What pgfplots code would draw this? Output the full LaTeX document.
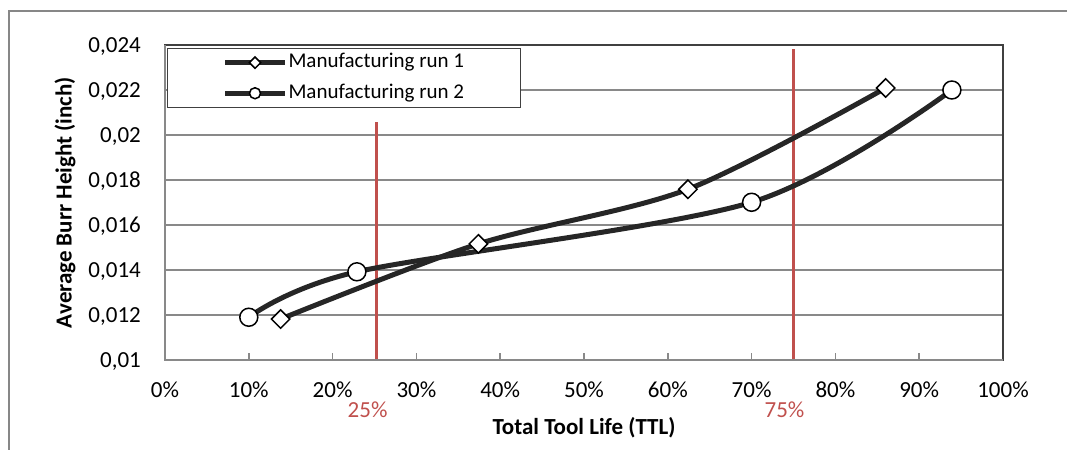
\documentclass[border=0pt]{standalone}
\usepackage{pgfplots}
\pgfplotsset{compat=1.18}
\usepackage{fontspec}
\setmainfont{Carlito}
\definecolor{serie}{HTML}{262626}
\definecolor{gridc}{HTML}{898989}
\definecolor{framec}{HTML}{404040}
\definecolor{axred}{HTML}{C0504D}
\definecolor{outerc}{HTML}{878787}
\pgfplotsset{
  legA/.style={legend image code/.code={\draw[mark repeat=2,mark phase=2,##1, mark size=4bp] plot coordinates {(0bp,0bp)(30bp,0bp)(60bp,0bp)};}},
  legB/.style={legend image code/.code={\draw[mark repeat=2,mark phase=2,##1, mark size=5.5bp] plot coordinates {(0bp,0bp)(30bp,0bp)(60bp,0bp)};}},
}
\begin{document}
\begin{tikzpicture}
\useasboundingbox (0,0) rectangle (1067bp,450bp);
\draw[outerc, line width=1.5bp] (9bp,0) -- (9bp,439bp) -- (1067bp,439bp);
\begin{axis}[
  at={(165bp,90bp)}, anchor=south west,
  scale only axis, width=838bp, height=315bp,
  xmin=0, xmax=100, ymin=0.01, ymax=0.024,
  clip=false,
  scaled y ticks=false, scaled x ticks=false,
  axis line style={framec, line width=1.5bp},
  xtick={0,10,20,30,40,50,60,70,80,90,100},
  xticklabels={0\%,10\%,20\%,30\%,40\%,50\%,60\%,70\%,80\%,90\%,100\%},
  ytick={0.01,0.012,0.014,0.016,0.018,0.02,0.022,0.024},
  yticklabels={{0,01},{0,012},{0,014},{0,016},{0,018},{0,02},{0,022},{0,024}},
  tick label style={font=\fontsize{23bp}{27bp}\selectfont},
  xticklabel style={inner sep=0pt, anchor=north, yshift=-22bp},
  yticklabel style={inner sep=0pt, anchor=base east, xshift=-24bp, yshift=-7.5bp},
  xtick pos=lower, tick align=inside,
  major tick length=7bp,
  xtick style={draw=gridc, line width=1.5bp},
  ytick style={draw=none},
  ymajorgrids, grid style={gridc, line width=1.5bp},
  xlabel={\bfseries Total Tool Life (TTL)},
  ylabel={\bfseries Average Burr Height (inch)},
  label style={font=\fontsize{23bp}{27bp}\selectfont, inner sep=0pt},
  xlabel style={at={(axis description cs:0.5,-0.2159)}, anchor=center},
  ylabel style={at={(axis description cs:-0.1193,0.5)}, anchor=center},
  legend style={at={(axis description cs:0.0024,0.99)}, anchor=north west,
    draw=framec, line width=1bp, inner xsep=55bp, inner ysep=4bp,
    font=\fontsize{21bp}{25bp}\selectfont, row sep=10.6bp,
    nodes={inner xsep=1bp, inner ysep=0pt, text height=15bp, text depth=5bp},
    cells={anchor=west}},
]
\addplot[axred, line width=2.5bp, forget plot] coordinates {(25.25,0.01) (25.25,0.02058)};
\addplot[axred, line width=2.5bp, forget plot] coordinates {(75,0.01) (75,0.02382)};

\addplot[serie, line width=5bp, smooth, tension=0.5,
  mark=square*, mark size=6.5bp,
  mark options={fill=white, draw=black, line width=1.5bp, rotate=45, solid},
  legA]
  coordinates {(13.8,0.01182) (37.4,0.01516) (62.4,0.01759) (86.0,0.02209)};
\addlegendentry{Manufacturing run 1}

\addplot[serie, line width=5bp, smooth, tension=0.5,
  mark=*, mark size=9bp,
  mark options={fill=white, draw=black, line width=1.5bp, solid},
  legB]
  coordinates {(10,0.0119) (22.9,0.01392) (70.0,0.01701) (93.9,0.0220)};
\addlegendentry{Manufacturing run 2}

\draw[gridc, line width=1.5bp] (rel axis cs:0,1) -- (rel axis cs:0,0) -- (rel axis cs:1,0);

\node[axred, font=\fontsize{23bp}{27bp}\selectfont, inner sep=0pt, xshift=-9bp, yshift=-50bp] at (axis cs:25.25,0.01) {25\%};
\node[axred, font=\fontsize{23bp}{27bp}\selectfont, inner sep=0pt, xshift=-9bp, yshift=-50bp] at (axis cs:75,0.01) {75\%};
\end{axis}
\end{tikzpicture}
\end{document}
